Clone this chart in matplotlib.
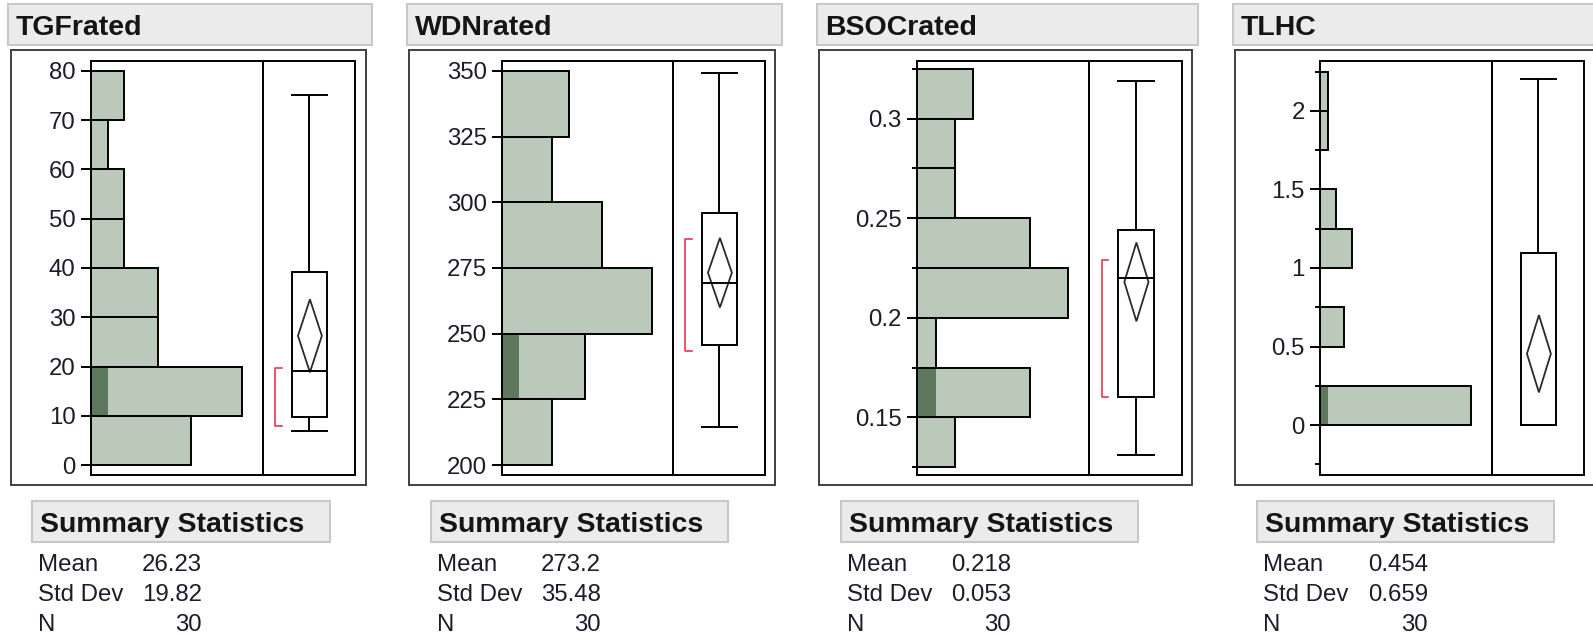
import numpy as np
import matplotlib.pyplot as plt
from matplotlib.patches import Rectangle, Polygon

plt.rcParams['font.family'] = ['Liberation Sans', 'DejaVu Sans']

# data
names = ['TGFrated', 'WDNrated', 'BSOCrated', 'TLHC']

tgf_bins = [0, 10, 20, 30, 40, 50, 60, 70, 80]
tgf_counts = [6, 9, 4, 4, 2, 2, 1, 2]
tgf_selected = [0, 1, 0, 0, 0, 0, 0, 0]
tgf_box = [6.9, 9.75, 19.1, 39.2, 75.1]      # whisker lo, q1, median, q3, whisker hi
tgf_short = [7.9, 19.7]
tgf_stats = [26.23, 19.82, 30]

wdn_bins = [200, 225, 250, 275, 300, 325, 350]
wdn_counts = [3, 5, 9, 6, 3, 4]
wdn_selected = [0, 1, 0, 0, 0, 0]
wdn_box = [214.4, 245.7, 269.4, 295.9, 349.4]
wdn_short = [243.4, 286.0]
wdn_stats = [273.2, 35.48, 30]

bsoc_bins = [0.125, 0.15, 0.175, 0.2, 0.225, 0.25, 0.275, 0.3, 0.325]
bsoc_counts = [2, 6, 1, 8, 6, 2, 2, 3]
bsoc_selected = [0, 1, 0, 0, 0, 0, 0, 0]
bsoc_box = [0.131, 0.160, 0.220, 0.244, 0.319]
bsoc_short = [0.160, 0.229]
bsoc_stats = [0.218, 0.053, 30]

tlhc_bins = [0, 0.25, 0.5, 0.75, 1.0, 1.25, 1.5, 1.75, 2.0, 2.25]
tlhc_counts = [19, 0, 3, 0, 4, 2, 0, 1, 1]
tlhc_selected = [1, 0, 0, 0, 0, 0, 0, 0, 0]
tlhc_box = [0.0, 0.0, 0.0, 1.094, 2.204]
tlhc_short = None
tlhc_stats = [0.454, 0.659, 30]

stat_text = [['26.23', '19.82', '30'], ['273.2', '35.48', '30'],
             ['0.218', '0.053', '30'], ['0.454', '0.659', '30']]

ylims = [(-2.03, 82.03), (196.2, 353.8), (0.121, 0.329), (-0.318, 2.318)]
major = [[0, 10, 20, 30, 40, 50, 60, 70, 80],
         [200, 225, 250, 275, 300, 325, 350],
         [0.15, 0.2, 0.25, 0.3],
         [0, 0.5, 1, 1.5, 2]]
major_lbl = [[str(v) for v in major[0]], [str(v) for v in major[1]],
             ['0.15', '0.2', '0.25', '0.3'], ['0', '0.5', '1', '1.5', '2']]
minor = [[], [], [0.125, 0.175, 0.225, 0.275, 0.325],
         [-0.25, 0.25, 0.75, 1.25, 1.75, 2.25]]

bins = [tgf_bins, wdn_bins, bsoc_bins, tlhc_bins]
counts = [tgf_counts, wdn_counts, bsoc_counts, tlhc_counts]
selected = [tgf_selected, wdn_selected, bsoc_selected, tlhc_selected]
boxes = [tgf_box, wdn_box, bsoc_box, tlhc_box]
shorts = [tgf_short, wdn_short, bsoc_short, tlhc_short]
stats = [tgf_stats, wdn_stats, bsoc_stats, tlhc_stats]

# layout in pixels
W, H = 1593, 634
title_x0 = [8, 407, 817, 1233]
title_x1 = [372, 782, 1198, 1610]
outer_x0 = [11, 409, 819, 1235]
outer_x1 = [366, 775, 1192, 1610]
inner_x0 = [91, 502, 917, 1320]
divider = [263, 673, 1089, 1492]
inner_x1 = [355, 765, 1182, 1584]
inner_y0, inner_y1 = 61, 475
sum_x0 = [32, 431, 841, 1257]
sum_x1 = [330, 728, 1138, 1554]
lbl_x = [38, 437, 847, 1263]
val_x = [202, 601, 1011, 1428]

light = '#bac9ba'
dark = '#5e785e'
txt = '#1c1c2a'
lw = 1.4

fig = plt.figure(figsize=(W / 100, H / 100), dpi=100)
bg = fig.add_axes([0, 0, 1, 1], zorder=0)
bg.set_xlim(0, W)
bg.set_ylim(H, 0)
bg.axis('off')


def pix_rect(x0, y0, x1, y1):
    return [x0 / W, 1 - y1 / H, (x1 - x0) / W, (y1 - y0) / H]


for i in range(4):
    # title bar
    bg.add_patch(Rectangle((title_x0[i], 4), title_x1[i] - title_x0[i], 41,
                           facecolor='#ebebeb', edgecolor='#c8c8c8', lw=1.5))
    bg.text(title_x0[i] + 8, 35, names[i], fontsize=20.5, fontweight='bold',
            color='#151515', va='baseline', ha='left')
    # outer frame
    bg.add_patch(Rectangle((outer_x0[i], 50), outer_x1[i] - outer_x0[i], 435,
                           facecolor='white', edgecolor='#404040', lw=lw))

    # histogram
    ax = fig.add_axes(pix_rect(inner_x0[i], inner_y0, divider[i], inner_y1), zorder=2)
    ax.patch.set_alpha(0)
    b = np.array(bins[i], dtype=float)
    c = np.array(counts[i], dtype=float)
    s = np.array(selected[i], dtype=float)
    h = np.diff(b)
    ax.barh(b[:-1], c, height=h, align='edge', color=light, edgecolor='none', lw=0)
    ax.barh(b[:-1], s, height=h, align='edge', color=dark, edgecolor='none', lw=0)
    nz = c > 0
    ax.barh(b[:-1][nz], c[nz], height=h[nz], align='edge', facecolor='none',
            edgecolor='black', lw=lw)
    ax.set_xlim(0, c.max() / 0.875)
    ax.set_ylim(*ylims[i])
    ax.set_xticks([])
    ax.set_yticks(major[i])
    ax.set_yticklabels(major_lbl[i])
    ax.set_yticks(minor[i], minor=True)
    ax.tick_params(axis='y', which='major', direction='out', length=7.5, width=lw,
                   pad=3.5, labelsize=17.3, labelcolor=txt)
    ax.tick_params(axis='y', which='minor', direction='out', length=3.8, width=lw)
    for sp in ax.spines.values():
        sp.set_linewidth(lw)
        sp.set_color('black')

    # box plot side
    bx = fig.add_axes(pix_rect(divider[i], inner_y0, inner_x1[i], inner_y1), zorder=2)
    bx.patch.set_alpha(0)
    bx.set_xlim(0, 1)
    bx.set_ylim(*ylims[i])
    bx.set_xticks([])
    bx.set_yticks([])
    for sp in bx.spines.values():
        sp.set_linewidth(lw)
        sp.set_color('black')
    wlo, q1, med, q3, whi = boxes[i]
    bl, br, cx = 0.31, 0.695, 0.5
    bx.plot([cx, cx], [q3, whi], color='black', lw=lw)
    bx.plot([cx, cx], [wlo, q1], color='black', lw=lw)
    bx.plot([bl, br], [whi, whi], color='black', lw=lw)
    bx.plot([bl, br], [wlo, wlo], color='black', lw=lw)
    bx.add_patch(Rectangle((bl, q1), br - bl, q3 - q1, facecolor='white',
                           edgecolor='black', lw=lw))
    bx.plot([bl, br], [med, med], color='black', lw=lw)
    mean, sd, n = stats[i]
    half = 2.045 * sd / np.sqrt(n)
    cxd = 0.51
    bx.add_patch(Polygon([(cxd, mean - half), (cxd + 0.13, mean), (cxd, mean + half),
                          (cxd - 0.13, mean)], closed=True, facecolor='none',
                         edgecolor='#2a2a2a', lw=1.3))
    if shorts[i] is not None:
        lo, hi = shorts[i]
        bx.plot([0.205, 0.135, 0.135, 0.205], [lo, lo, hi, hi], color='#e8384c', lw=1.2)

    # summary statistics
    bg.add_patch(Rectangle((sum_x0[i], 501), sum_x1[i] - sum_x0[i], 41,
                           facecolor='#ebebeb', edgecolor='#c8c8c8', lw=1.5))
    bg.text(sum_x0[i] + 8, 532, 'Summary Statistics', fontsize=20.5, fontweight='bold',
            color='#151515', va='baseline', ha='left')
    for lab, val, yb in zip(['Mean', 'Std Dev', 'N'], stat_text[i], [571, 601, 631]):
        bg.text(lbl_x[i], yb, lab, fontsize=17.3, color=txt, va='baseline', ha='left')
        bg.text(val_x[i], yb, val, fontsize=17.3, color=txt, va='baseline', ha='right')

fig.savefig('out.png', dpi=100)
